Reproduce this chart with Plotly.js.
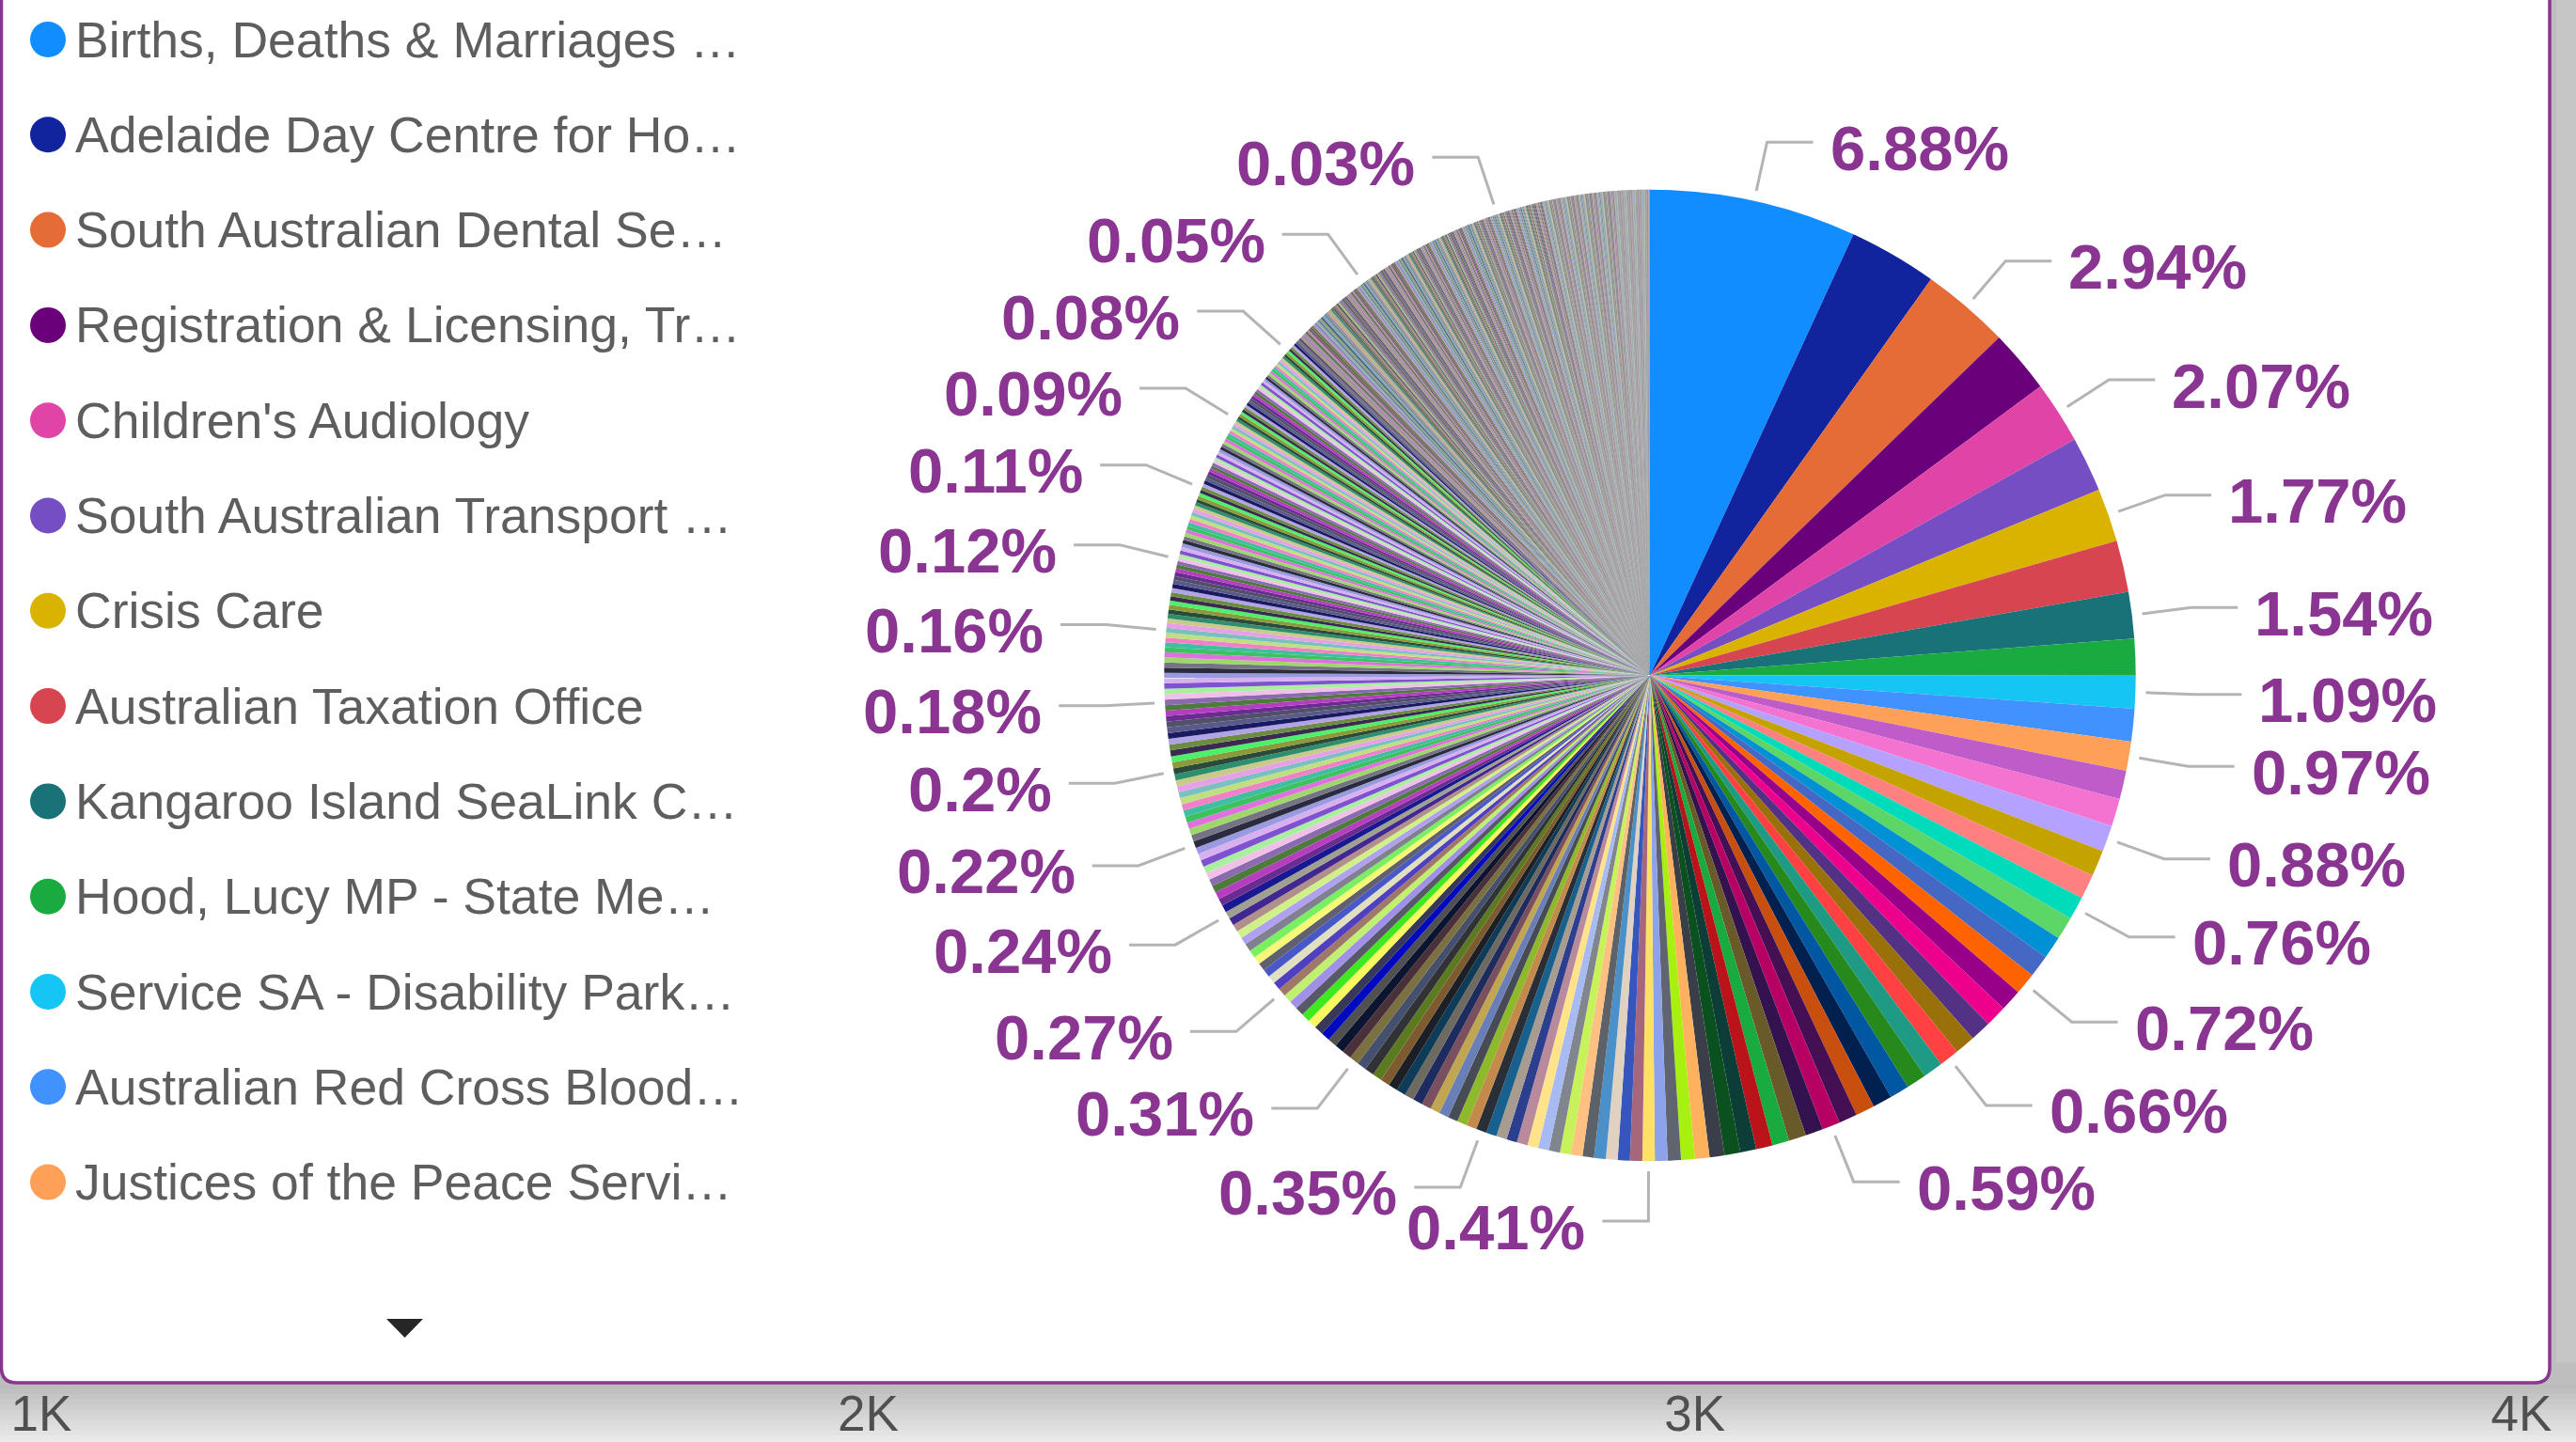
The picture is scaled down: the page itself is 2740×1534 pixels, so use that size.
<!DOCTYPE html>
<html>
<head>
<meta charset="utf-8">
<script src="https://cdn.plot.ly/plotly-3.0.1.min.js"></script>
<style>
  html, body { margin: 0; padding: 0; background: #ffffff; }
  #chart { width: 2740px; height: 1534px; }
</style>
</head>
<body>
<div id="chart"></div>
<script>
// ---------------- DATA ----------------
// Legend entries visible in the report (truncated as displayed)
const legendNames = [
  "Births, Deaths & Marriages \u2026",
  "Adelaide Day Centre for Ho\u2026",
  "South Australian Dental Se\u2026",
  "Registration & Licensing, Tr\u2026",
  "Children's Audiology",
  "South Australian Transport \u2026",
  "Crisis Care",
  "Australian Taxation Office",
  "Kangaroo Island SeaLink C\u2026",
  "Hood, Lucy MP - State Me\u2026",
  "Service SA - Disability Park\u2026",
  "Australian Red Cross Blood\u2026",
  "Justices of the Peace Servi\u2026"
];

// Share of each service, in hundredths of a percent, largest first (slices 1-47)
const leadingShares = [
  688,294,294,210,207,183,177,172,154,122,
  109,108,97,95,92,88,86,82,76,76,
  75,74,72,72,71,69,68,66,66,66,
  65,64,63,61,59,59,58,56,55,53,
  52,50,48,46,44,42,41
];

// Slices 48-245
const middleShares = [
  41,40,39,39,38,38,37,37,36,36,36,35,35,35,
  35,
  34,33,33,32,32,32,32,31,31,31,31,31,31,31,
  31,
  31,31,30,30,30,30,29,29,29,28,
  27,
  27,27,26,26,26,26,26,25,25,25,25,
  24,
  24,24,24,24,23,23,23,23,22,22,
  22,
  22,22,21,21,21,21,21,20,20,20,20,
  20,
  20,20,20,19,19,19,19,19,18,18,18,
  18,
  18,18,18,17,17,17,17,17,17,16,16,16,16,
  16,
  16,15,15,15,15,14,14,14,14,14,13,13,13,13,12,12,
  12,
  12,12,12,12,12,12,12,12,12,12,
  12,12,12,12,11,11,11,11,11,11,
  11,
  11,11,11,11,11,11,10,10,10,10,
  10,10,10,10,10,10,10,10,10,10,
  9,9,9,9,
  9,
  9,9,9,9,9,9,9,9,9,9,
  9,9,9,9,9,9,8,8,8,8,
  8,8,8,8,8,8,8,8,8,8,
  8,8,
  8
];

// Slices 246-708 (the long tail of small services)
const tailShares = [
  8,8,8,8,8,8,8,8,8,7,
  7,7,7,7,7,7,7,7,7,7,
  7,7,7,7,7,7,7,7,6,6,
  6,6,6,6,6,6,6,6,6,6,
  6,5,5,5,5,5,5,5,5,5,
  5,
  5,5,5,5,5,5,5,5,5,5,
  5,5,5,5,5,5,5,5,5,5,
  5,5,5,5,5,5,5,5,5,5,
  5,5,4,4,4,4,4,4,4,4,
  4,4,4,4,4,4,4,4,4,4,
  4,4,4,4,4,4,4,4,4,4,
  4,4,4,4,4,4,4,4,4,4,
  4,4,4,4,4,4,4,4,4,4,
  4,4,4,4,4,4,4,4,4,4,
  4,4,3,3,3,3,3,3,3,3,
  3,3,3,3,3,3,3,3,3,3,
  3,3,3,3,3,3,3,3,3,3,
  3,3,
  3,
  3,3,3,3,3,3,3,3,3,3,
  3,3,3,3,3,3,3,3,3,3,
  3,3,3,3,3,3,3,3,3,3,
  3,3,3,3,3,3,3,3,3,3,
  3,3,3,3,3,3,3,3,3,3,
  2,2,2,2,2,2,2,2,2,2,
  2,2,2,2,2,2,2,2,2,2,
  2,2,2,2,2,2,2,2,2,2,
  2,2,2,2,2,2,2,2,2,2,
  2,2,2,2,2,2,2,2,2,2,
  2,2,2,2,2,2,2,2,2,2,
  2,2,2,2,2,2,2,2,2,2,
  2,2,2,2,2,2,2,2,2,2,
  2,2,2,2,2,2,2,2,2,2,
  2,2,2,2,2,2,2,2,2,2,
  2,2,2,2,2,2,2,2,2,2,
  2,2,2,2,2,2,2,2,2,1,
  1,1,1,1,1,1,1,1,1,1,
  1,1,1,1,1,1,1,1,1,1,
  1,1,1,1,1,1,1,1,1,1,
  1,1,1,1,1,1,1,1,1,1,
  1,1,1,1,1,1,1,1,1,1,
  1,1,1,1,1,1,1,1,1,1,
  1,1,1,1,1,1,1,1,1,1,
  1,1,1,1,1,1,1,1,1,1,
  1,1,1,1,1,1,1,1,1,1,
  1,1,1,1,1,1,1,1,1,1,
  1,1,1,1,1,1,1,1,1,1,
  1,1,1,1,1,1,1,1,1
];

// Slices (0-based) whose percentage label is shown on the chart
const labelledSlices = [0,2,4,6,8,10,12,15,18,22,27,34,46,61,76,87,99,110,122,134,148,165,186,211,244,295,418];

// Bottom axis ticks (partially visible axis under the card)
const tickValues = [1000, 2000, 3000, 4000];
const tickLabels = ["1K", "2K", "3K", "4K"];

// ---------------- STYLE ----------------
const themeColors = [
  '#118DFF','#12239E','#E66C37','#6B007B','#E044A7','#744EC2','#D9B300','#D64550','#197278','#1AAB40',
  '#15C6F4','#4092FF','#FFA058','#BE5DC9','#F472D0','#B5A1FF','#C4A200','#FF8080','#00DBBC','#5BD667',
  '#0091D5','#4668C5','#FF6300','#99008A','#EC008C','#533285','#99700A','#FF4141','#1F9A85','#25891C',
  '#0057A2','#002050','#C94F0F','#450F54','#B60064','#34124F','#6A5A29','#1AAB40','#BA141A','#0C3D37',
  '#0B511F'
];
const extraColors = [
  '#393E49','#FFB15E','#A8F00F','#5F6470','#8CA3EB','#FFE066','#A6677D','#3656BE','#E0D1C1','#4A90C9',
  '#5D6269','#FFC082','#C8F25A','#80858E','#A8BAF2','#FFE38A','#B88A9B','#2B3F8E','#A89C90','#18608D',
  '#2A2F37','#C48A4C','#8DB92A','#464B55','#6A7FB8','#C0A650','#7A4F5E','#1E2B5E','#6E6A60','#0E3B58',
  '#1C1F25','#7D5A30','#5C7A20','#303236','#45506E','#7A7040','#4A3038','#0C1530','#505050','#0008C0',
  '#383858','#F8F860','#40E820','#585868','#A090E8','#C0F070','#A07868','#5040C0','#E0E0C0','#4858C8',
  '#606070','#F8F878','#78F060','#808090','#B0A0F0','#D0F088','#B09088','#402890','#A0A090','#181890'
];
const midPalette = [
  '#6A2C91','#3CC25E','#B2A2E6','#2B2B40','#8C9A3A','#A8F0A0','#E6A0E6','#B63CC0','#3FBFA0','#1A1A60',
  '#747484','#4CF06A','#7F52CF','#C9C98A','#4E7A3A','#F080C8','#5A5A8A','#9ED86C','#3A2A50','#D8B0F0',
  '#2E8F6E','#8A6AB0','#C0E080','#505068','#E070E0','#6C8C40','#9A9AE0','#2A4A3A','#F0C0E8','#7AC0C0'
];
const latePalette = [
  '#72727F','#8F7FC4','#65654F','#A97FAF','#82AA7E','#555566','#BE86A8','#738A86','#8170AB','#6F7A4E',
  '#AEAE8A','#5E4F77','#82BBA2','#777777','#A38D9B','#4F6177','#96C07E','#745E77','#8E8EAA','#60604C',
  '#B696BE','#468686','#9D9D75','#76769E','#AE8676','#537353','#84A6C6','#967686','#666656','#C6A686'
];

const FONT = 'Liberation Sans, Arial, Helvetica, sans-serif';
const PURPLE = '#8A3591';
const LEADER = '#B4B4B4';

// ---------------- BUILD ----------------
const shares = leadingShares.concat(middleShares, tailShares);
const fixedColors = themeColors.concat(extraColors);
const sliceColors = shares.map((v, i) => {
  if (i < fixedColors.length) return fixedColors[i];
  if (i < 250) return midPalette[((i - fixedColors.length) * 7) % midPalette.length];
  return latePalette[((i - 250) * 11) % latePalette.length];
});
const sliceLabels = shares.map((v, i) => i < legendNames.length ? legendNames[i] : String(i + 1));

const W = 2740, HT = 1534, MB = 66, H = HT - MB;
const X = px => px / W;
const Y = py => 1 - py / H;

// Pie placement (pixels)
const pieCx = 1755, pieCy = 718.4, pieR = 516.7;
const pieDomain = { x: [X(pieCx - pieR), X(pieCx + pieR)], y: [Y(pieCy + pieR), Y(pieCy - pieR)] };
const cx = W * (pieDomain.x[0] + pieDomain.x[1]) / 2;
const cy = H * (1 - (pieDomain.y[0] + pieDomain.y[1]) / 2);
const r = Math.min(W * (pieDomain.x[1] - pieDomain.x[0]), H * (pieDomain.y[1] - pieDomain.y[0])) / 2;

const total = shares.reduce((a, b) => a + b, 0);
const midAngles = [];
let run = 0;
shares.forEach(v => { midAngles.push((run + v / 2) / total * 360); run += v; });

const shapes = [];
const annotations = [];

// bottom grey gradient strip
for (let k = 0; k < 12; k++) {
  const t = k / 11;
  const g = Math.round(188 + (236 - 188) * t);
  shapes.push({ type: 'rect', layer: 'below', xref: 'paper', yref: 'paper',
    x0: X(-5), x1: X(W + 5), y0: Y(1472 + (k + 1) * 5.5 + 1), y1: Y(1472 + k * 5.5),
    fillcolor: 'rgb(' + g + ',' + g + ',' + g + ')', line: { width: 0 } });
}
// right-hand scroll strip
shapes.push({ type: 'rect', layer: 'below', xref: 'paper', yref: 'paper',
  x0: X(2719), x1: X(W + 5), y0: Y(1450), y1: Y(-10),
  fillcolor: '#C6C6C6', line: { width: 0 } });

// card with purple border and rounded bottom corners
const cardPath = 'M' + X(1.5) + ',' + Y(-40) +
  ' L' + X(1.5) + ',' + Y(1455) +
  ' Q' + X(1.5) + ',' + Y(1471) + ' ' + X(18) + ',' + Y(1471) +
  ' L' + X(2696) + ',' + Y(1471) +
  ' Q' + X(2712) + ',' + Y(1471) + ' ' + X(2712) + ',' + Y(1455) +
  ' L' + X(2712) + ',' + Y(-40) + ' Z';
shapes.push({ type: 'path', layer: 'below', xref: 'paper', yref: 'paper', path: cardPath,
  fillcolor: '#FFFFFF', line: { color: PURPLE, width: 3.5 } });

// legend (custom, Power BI style)
const rowStart = 42, rowStep = 101.3;
legendNames.forEach((name, k) => {
  const yc = rowStart + rowStep * k;
  shapes.push({ type: 'circle', xref: 'paper', yref: 'paper',
    x0: X(32), x1: X(70), y0: Y(yc + 19), y1: Y(yc - 19),
    fillcolor: sliceColors[k], line: { width: 0 } });
  annotations.push({ xref: 'paper', yref: 'paper', x: X(78), y: Y(yc + 0),
    xanchor: 'left', yanchor: 'middle', showarrow: false, text: name,
    font: { family: FONT, size: 53.5, color: '#5E5E5E' } });
});
// legend scroll arrow
shapes.push({ type: 'path', xref: 'paper', yref: 'paper',
  path: 'M' + X(411) + ',' + Y(1403) + ' L' + X(450) + ',' + Y(1403) + ' L' + X(430.5) + ',' + Y(1423) + ' Z',
  fillcolor: '#262626', line: { width: 0 } });

// data labels with elbow leader lines
const fmtPct = v => String(parseFloat((v / total * 100).toFixed(2))) + '%';
labelledSlices.forEach(i => {
  const a = midAngles[i] * Math.PI / 180;
  const s = Math.sin(a), c = Math.cos(a);
  const side = s >= 0 ? 1 : -1;
  const p0 = [cx + (r + 11) * s, cy - (r + 11) * c];
  const p1 = [cx + (r + 64) * s, cy - (r + 64) * c];
  const p2 = [p1[0] + side * 49, p1[1]];
  shapes.push({ type: 'path', xref: 'paper', yref: 'paper',
    path: 'M' + X(p0[0]) + ',' + Y(p0[1]) + ' L' + X(p1[0]) + ',' + Y(p1[1]) + ' L' + X(p2[0]) + ',' + Y(p2[1]),
    line: { color: LEADER, width: 3 } });
  annotations.push({ xref: 'paper', yref: 'paper', x: X(p2[0] + side * 16), y: Y(p1[1] + 6),
    xanchor: side > 0 ? 'left' : 'right', yanchor: 'middle', showarrow: false,
    text: fmtPct(shares[i]),
    font: { family: FONT, size: 67, color: PURPLE, weight: 700 } });
});

const data = [
  {
    type: 'pie',
    labels: sliceLabels,
    values: shares,
    sort: false,
    direction: 'clockwise',
    rotation: 0,
    domain: pieDomain,
    marker: { colors: sliceColors, line: { width: 0 } },
    textinfo: 'none',
    hoverinfo: 'label+percent',
    showlegend: false
  },
  { type: 'scatter', x: [], y: [], xaxis: 'x', yaxis: 'y', hoverinfo: 'skip', showlegend: false }
];

const layout = {
  width: W, height: HT,
  margin: { l: 0, r: 0, t: 0, b: MB, pad: 0 },
  paper_bgcolor: '#BEBEBE',
  plot_bgcolor: 'rgba(0,0,0,0)',
  showlegend: false,
  font: { family: FONT },
  xaxis: {
    domain: [X(44), X(2682)], range: [1000, 4000],
    tickvals: tickValues, ticktext: tickLabels,
    showgrid: false, zeroline: false, showline: false, ticks: '',
    tickfont: { family: FONT, size: 53, color: '#505050' }, fixedrange: true
  },
  yaxis: { visible: false, range: [0, 1], fixedrange: true },
  shapes: shapes,
  annotations: annotations
};

Plotly.newPlot('chart', data, layout, { staticPlot: true, displayModeBar: false });
</script>
</body>
</html>
